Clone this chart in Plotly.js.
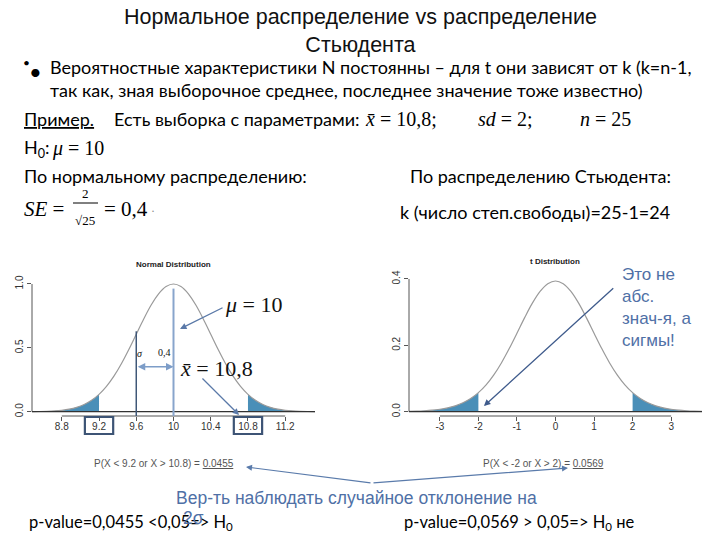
<!DOCTYPE html>
<html>
<head>
<meta charset="utf-8">
<script src="https://cdn.plot.ly/plotly-3.0.1.min.js"></script>
<style>html,body{margin:0;padding:0;background:#fff;}#chart{width:720px;height:540px;}</style>
</head>
<body>
<div id="chart"></div>
<script>
// ---- data ----
// Normal distribution (scaled so the peak is 1.0), mean 10, SE 0.4
const normX = [8.48,8.56,8.64,8.72,8.80,8.88,8.96,9.04,9.12,9.2,9.28,9.36,9.44,9.52,9.60,9.68,9.76,9.84,9.92,10.00,
               10.08,10.16,10.24,10.32,10.40,10.48,10.56,10.64,10.72,10.8,10.88,10.96,11.04,11.12,11.20,11.28,11.36,11.44,11.52];
const normY = [0.0007,0.0015,0.0031,0.0060,0.0111,0.0198,0.0340,0.0561,0.0889,0.1353,0.1979,0.2780,0.3753,0.4868,0.6065,0.7261,0.8353,0.9231,0.9802,1.0000,
               0.9802,0.9231,0.8353,0.7261,0.6065,0.4868,0.3753,0.2780,0.1979,0.1353,0.0889,0.0561,0.0340,0.0198,0.0111,0.0060,0.0031,0.0015,0.0007];
// t distribution, 24 degrees of freedom
const tX = [-3.8,-3.6,-3.4,-3.2,-3.0,-2.8,-2.6,-2.4,-2.2,-2.0,-1.8,-1.6,-1.4,-1.2,-1.0,-0.8,-0.6,-0.4,-0.2,0,
            0.2,0.4,0.6,0.8,1.0,1.2,1.4,1.6,1.8,2.0,2.2,2.4,2.6,2.8,3.0,3.2,3.4,3.6,3.8];
const tY = [0.0011,0.0018,0.0029,0.0046,0.0074,0.0115,0.0177,0.0268,0.0396,0.0574,0.0809,0.1110,0.1477,0.1902,0.2365,0.2835,0.3271,0.3626,0.3859,0.3940,
            0.3859,0.3626,0.3271,0.2835,0.2365,0.1902,0.1477,0.1110,0.0809,0.0574,0.0396,0.0268,0.0177,0.0115,0.0074,0.0046,0.0029,0.0018,0.0011];
const normCrit = [9.2, 10.8];
const tCrit = [-2, 2];
const mu = 10, se = 0.4;
const normXTicks = [8.8, 9.2, 9.6, 10, 10.4, 10.8, 11.2];
const normXTickText = ['8.8','9.2','9.6','10','10.4','10.8','11.2'];
const normYTicks = [0, 0.5, 1.0];
const normYTickText = ['0.0','0.5','1.0'];
const tXTicks = [-3,-2,-1,0,1,2,3];
const tXTickText = ['-3','-2','-1','0','1','2','3'];
const tYTicks = [0, 0.2, 0.4];
const tYTickText = ['0.0','0.2','0.4'];

// ---- styles ----
const FILL = '#4a8fb8';
const CURVE = '#9a9a9a';
const BODY = 'Lato, "Liberation Sans Narrow", sans-serif';
const SERIF = '"Liberation Serif", "DejaVu Serif", serif';
const ARIAL = '"Liberation Sans", Arial, sans-serif';
const BLUE = '#4f70a6';

function pick(xs, ys, f){ const ox=[], oy=[]; xs.forEach((x,i)=>{ if(f(x)){ox.push(x);oy.push(ys[i]);} }); return {x:ox,y:oy}; }
const nL = pick(normX, normY, x => x <= normCrit[0] + 1e-9);
const nR = pick(normX, normY, x => x >= normCrit[1] - 1e-9);
const tL = pick(tX, tY, x => x <= tCrit[0] + 1e-9);
const tR = pick(tX, tY, x => x >= tCrit[1] - 1e-9);

const fillTrace = (d, xa, ya) => ({x:d.x, y:d.y, xaxis:xa, yaxis:ya, type:'scatter', mode:'lines', fill:'tozeroy',
  fillcolor:FILL, line:{width:0, shape:'spline'}, hoverinfo:'skip'});
const data = [
  fillTrace(nL,'x','y'), fillTrace(nR,'x','y'),
  {x:normX, y:normY, xaxis:'x', yaxis:'y', type:'scatter', mode:'lines', line:{color:CURVE, width:1.2, shape:'spline'}},
  fillTrace(tL,'x2','y2'), fillTrace(tR,'x2','y2'),
  {x:tX, y:tY, xaxis:'x2', yaxis:'y2', type:'scatter', mode:'lines', line:{color:CURVE, width:1.2, shape:'spline'}}
];

const W = 720, H = 540;
const px = v => v / W, py = v => 1 - v / H;
const ann = [];
function T(text, x, y, size, opts){
  ann.push(Object.assign({text:text, x:px(x), y:py(y), xref:'paper', yref:'paper', showarrow:false,
    xanchor:'left', yanchor:'middle', font:{family:BODY, size:size, color:'#000'}}, opts||{}));
}
// Slide title
T('Нормальное распределение vs распределение<br>Стьюдента', 360, 31, 21.5, {xanchor:'center', font:{family:ARIAL, size:21.5, color:'#111'}});
// bullet
T('•', 21, 62, 12); T('•', 27, 71, 22);
T('Вероятностные характеристики N постоянны – для t они зависят от k (k=n-1,', 48, 67, 18);
T('так как, зная выборочное среднее, последнее значение тоже известно)', 48, 90, 18);
T('<u>Пример.</u>', 22, 119, 18);
T('Есть выборка с параметрами:', 112, 119, 18);
T('<i>x̄</i> = 10,8;', 363, 119, 20, {font:{family:SERIF, size:20, color:'#000'}});
T('<i>sd</i> = 2;', 476, 119, 20, {font:{family:SERIF, size:20, color:'#000'}});
T('<i>n</i> = 25', 578, 119, 20, {font:{family:SERIF, size:20, color:'#000'}});
T('H<sub>0</sub>:', 22, 148, 18);
T('<i>μ</i> = 10', 50, 148, 20, {font:{family:SERIF, size:20, color:'#000'}});
T('По нормальному распределению:', 22, 176, 18);
T('По распределению Стьюдента:', 408, 176, 18);
T('<i>SE</i> =', 22, 209, 21, {font:{family:SERIF, size:21, color:'#000'}});
T('2', 85, 193, 13, {xanchor:'center', font:{family:SERIF, size:13, color:'#000'}});
T('√25', 85, 221, 13, {xanchor:'center', font:{family:SERIF, size:13, color:'#000'}});
T('= 0,4', 102, 209, 21, {font:{family:SERIF, size:21, color:'#000'}});
T('·', 149, 211, 12, {font:{family:SERIF, size:12, color:'#888'}});
T('k (число степ.свободы)=25-1=24', 398, 212, 18);

// chart titles
T('<b>Normal Distribution</b>', 173, 264, 8, {xanchor:'center', font:{family:ARIAL, size:8, color:'#222'}});
T('<b>t Distribution</b>', 555, 261, 8, {xanchor:'center', font:{family:ARIAL, size:8, color:'#222'}});

// in-chart labels (data coordinates)
const dt = (text, x, y, size, fam, xa, ya, extra) => ann.push(Object.assign({text:text, x:x, y:y, xref:xa||'x', yref:ya||'y',
  showarrow:false, xanchor:'center', yanchor:'middle', font:{family:fam, size:size, color:'#111'}}, extra||{}));
dt('<i>σ</i>', mu - se + 0.04, 0.452, 10, SERIF);
dt('0,4', mu - 0.10, 0.46, 10, SERIF);
dt('<i>μ</i> = 10', 10.86, 0.843, 22, SERIF);
dt('<i>x̄</i> = 10,8', 10.46, 0.342, 22, SERIF);
const arr = (x, y, ax, ay, xa, ya, color, extra) => ann.push(Object.assign({text:'', x:x, y:y, ax:ax, ay:ay, xref:xa, yref:ya,
  axref:xa, ayref:ya, showarrow:true, arrowhead:2, arrowsize:1, arrowwidth:1.3, arrowcolor:color, standoff:0, startstandoff:0}, extra||{}));
arr(10.07, 0.648, 10.543, 0.820, 'x', 'y', '#5a79a8');
arr(10.704, -0.026, 10.295, 0.272, 'x', 'y', '#5a79a8');
arr(mu, 0.352, mu - se, 0.352, 'x', 'y', '#7d9dc8', {arrowside:'end+start', arrowwidth:1.5});
arr(-1.857, 0.017, 1.537, 0.376, 'x2', 'y2', '#3f5b8c');

// right-hand comment
T('Это не<br>абс.<br>знач-я, а<br>сигмы!', 620, 307, 17, {font:{family:ARIAL, size:17, color:BLUE}, align:'left'});

// bottom texts
T('P(X < 9.2 or X > 10.8) = <u>0.0455</u>', 92, 463, 10, {font:{family:ARIAL, size:10, color:'#555'}});
T('P(X < -2 or X > 2) = <u>0.0569</u>', 481, 463, 10, {font:{family:ARIAL, size:10, color:'#555'}});
ann.push({text:'', x:px(246), y:py(467), xref:'paper', yref:'paper', ax:126, ay:16, axref:'pixel', ayref:'pixel',
  showarrow:true, arrowhead:2, arrowsize:1, arrowwidth:1.2, arrowcolor:'#5a7bab', standoff:0});
ann.push({text:'', x:px(568), y:py(468), xref:'paper', yref:'paper', ax:-196, ay:15, axref:'pixel', ayref:'pixel',
  showarrow:true, arrowhead:2, arrowsize:1, arrowwidth:1.2, arrowcolor:'#5a7bab', standoff:0});
T('Вер-ть наблюдать случайное отклонение на', 174, 498, 17.5, {font:{family:ARIAL, size:17.5, color:BLUE}});
T('p-value=0,0455 <0,05=> H<sub>0</sub>', 27, 522, 16.5);
T('2σ', 181, 518, 17.5, {font:{family:ARIAL, size:17.5, color:BLUE}});
T('p-value=0,0569 > 0,05=> H<sub>0</sub> не', 402, 522, 16.5);

// shapes: R-style axis lines, baselines, reference lines, boxes
const shapes = [
  {type:'line', xref:'x domain', yref:'y', x0:0, x1:0, y0:normYTicks[0], y1:normYTicks[2], line:{color:'#555', width:1}},
  {type:'line', xref:'x', yref:'y domain', x0:normXTicks[0], x1:normXTicks[6], y0:0, y1:0, line:{color:'#555', width:1}},
  {type:'line', xref:'x domain', yref:'y', x0:0, x1:1, y0:0, y1:0, line:{color:'#333', width:1.2}},
  {type:'line', xref:'x2 domain', yref:'y2', x0:0, x1:0, y0:tYTicks[0], y1:tYTicks[2], line:{color:'#555', width:1}},
  {type:'line', xref:'x2', yref:'y2 domain', x0:tXTicks[0], x1:tXTicks[6], y0:0, y1:0, line:{color:'#555', width:1}},
  {type:'line', xref:'x2 domain', yref:'y2', x0:0, x1:1, y0:0, y1:0, line:{color:'#333', width:1.2}},
  {type:'line', xref:'x', yref:'y domain', x0:mu, x1:mu, y0:0, y1:0.91, line:{color:'#88a5cc', width:2}},
  {type:'line', xref:'x', yref:'y domain', x0:mu - se, x1:mu - se, y0:0, y1:0.605, line:{color:'#3f5777', width:1.5}},
  {type:'rect', xref:'x', yref:'paper', x0:normCrit[0]-0.152, x1:normCrit[0]+0.152, y0:py(434), y1:py(417), line:{color:'#3d5475', width:2.2}},
  {type:'rect', xref:'x', yref:'paper', x0:normCrit[1]-0.152, x1:normCrit[1]+0.152, y0:py(434), y1:py(417), line:{color:'#3d5475', width:2.2}},
  // fraction bar in SE formula
  {type:'line', xref:'paper', yref:'paper', x0:px(73), x1:px(98), y0:py(203), y1:py(203), line:{color:'#000', width:1}}
];

const axBase = {showgrid:false, zeroline:false, showline:false, ticks:'outside', ticklen:4, tickcolor:'#555', tickwidth:1,
  tickfont:{family:ARIAL, size:10, color:'#333'}, fixedrange:true};
const layout = {
  width:W, height:H, margin:{l:0, r:0, t:0, b:0}, paper_bgcolor:'#fff', plot_bgcolor:'rgba(0,0,0,0)', showlegend:false,
  xaxis:Object.assign({}, axBase, {domain:[px(32), px(315)], range:[8.48, 11.52], tickvals:normXTicks, ticktext:normXTickText, anchor:'y', ticklabelstandoff:-3}),
  yaxis:Object.assign({}, axBase, {domain:[py(416), py(276)], range:[-0.0337, 1.0626], tickvals:normYTicks, ticktext:normYTickText, tickangle:-90, anchor:'x'}),
  xaxis2:Object.assign({}, axBase, {domain:[px(409), px(702)], range:[-3.8, 3.8], tickvals:tXTicks, ticktext:tXTickText, anchor:'y2', ticklabelstandoff:-3}),
  yaxis2:Object.assign({}, axBase, {domain:[py(416), py(276)], range:[-0.01296, 0.4090], tickvals:tYTicks, ticktext:tYTickText, tickangle:-90, anchor:'x2'}),
  annotations:ann, shapes:shapes
};
Plotly.newPlot('chart', data, layout, {staticPlot:true, displayModeBar:false});
</script>
</body>
</html>
